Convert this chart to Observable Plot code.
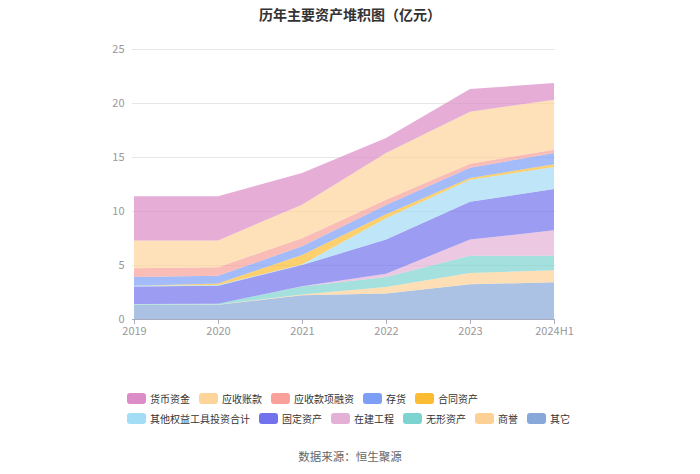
<!DOCTYPE html>
<html>
<head>
<meta charset="utf-8">
<script src="https://cdn.jsdelivr.net/npm/d3@7"></script>
<script src="https://cdn.jsdelivr.net/npm/@observablehq/plot@0.6"></script>
<style>
  html, body { margin: 0; padding: 0; background: #fff; }
  body { width: 700px; height: 474px; overflow: hidden; font-family: "Noto Sans CJK SC", "Noto Sans", sans-serif; }
  #title { height: 28px; line-height: 28px; text-align: center; font-size: 14px; font-weight: bold; color: #333; }
  #chart svg { display: block; }
  #legend { margin-top: 39px; padding-left: 127px; }
  .row { display: flex; height: 20px; align-items: center; }
  .item { display: flex; align-items: center; margin-right: 9px; font-size: 10px; color: #333; }
  .sw { width: 19px; height: 11px; border-radius: 3px; margin-right: 4px; }
  #caption { margin-top: 20px; height: 16px; line-height: 16px; text-align: center; font-size: 11.5px; color: #666; }
</style>
</head>
<body>
<div id="title">历年主要资产堆积图（亿元）</div>
<div id="chart"></div>
<div id="legend"></div>
<div id="caption">数据来源：恒生聚源</div>
<script>
const years = ["2019", "2020", "2021", "2022", "2023", "2024H1"];
const yTicks = [0, 5, 10, 15, 20, 25];

// stacking order, bottom to top
const seriesNames = ["其它", "商誉", "无形资产", "在建工程", "固定资产", "其他权益工具投资合计", "合同资产", "存货", "应收款项融资", "应收账款", "货币资金"];

const qita     = [1.30, 1.32, 2.19, 2.35, 3.21, 3.40];
const shangyu  = [0.02, 0.02, 0.09, 0.61, 1.05, 1.11];
const wuxing   = [0.08, 0.08, 0.74, 0.93, 1.60, 1.35];
const zaijian  = [0.00, 0.00, 0.02, 0.31, 1.49, 2.35];
const guding   = [1.62, 1.67, 1.96, 3.15, 3.51, 3.83];
const quanyi   = [0.05, 0.05, 0.05, 1.97, 2.04, 2.03];
const hetong   = [0.02, 0.15, 0.88, 0.37, 0.16, 0.25];
const cunhuo   = [0.80, 0.71, 0.80, 0.87, 0.95, 1.05];
const rongzi   = [0.80, 0.80, 0.74, 0.49, 0.37, 0.31];
const zhangkuan= [2.59, 2.48, 3.12, 4.32, 4.82, 4.63];
const huobi    = [4.08, 4.08, 2.93, 1.39, 2.10, 1.54];

const seriesValues = [qita, shangyu, wuxing, zaijian, guding, quanyi, hetong, cunhuo, rongzi, zhangkuan, huobi];

// legend order
const legendRow1 = ["货币资金", "应收账款", "应收款项融资", "存货", "合同资产"];
const legendRow2 = ["其他权益工具投资合计", "固定资产", "在建工程", "无形资产", "商誉", "其它"];

const palette = {
  "货币资金": "#dc8cc6",
  "应收账款": "#fdd49a",
  "应收款项融资": "#f8a099",
  "存货": "#7c9ef5",
  "合同资产": "#fbbc32",
  "其他权益工具投资合计": "#a3dcf5",
  "固定资产": "#7272ed",
  "在建工程": "#e4b0d6",
  "无形资产": "#7dd3cf",
  "商誉": "#fdd196",
  "其它": "#88a8da"
};

const rows = [];
seriesNames.forEach((s, i) => {
  years.forEach((y, j) => rows.push({ series: s, year: y, value: seriesValues[i][j] }));
});

const chart = Plot.plot({
  width: 700,
  height: 321,
  marginLeft: 132,
  marginRight: 145,
  marginTop: 21,
  marginBottom: 30,
  style: { fontFamily: "'Noto Sans CJK SC', 'Noto Sans', sans-serif", fontSize: "11px", color: "#999", background: "#fff" },
  x: { type: "point", domain: years, padding: 0, label: null },
  y: { domain: [0, 25], label: null },
  color: { domain: seriesNames, range: seriesNames.map(s => palette[s]) },
  marks: [
    Plot.gridY(yTicks, { stroke: "#e6e6e6", strokeOpacity: 1 }),
    Plot.areaY(rows, { x: "year", y: "value", fill: "series", order: seriesNames, fillOpacity: 0.7, curve: "linear" }),
    Plot.ruleY([0], { stroke: "#a8adbd", strokeWidth: 1 }),
    Plot.axisY({ ticks: yTicks, tickSize: 0, tickPadding: 8, fill: "#999", fontSize: 11 }),
    Plot.axisX({ tickSize: 5, stroke: "#a8adbd", tickPadding: 3, fill: "#999", fontSize: 11 })
  ]
});
document.getElementById("chart").appendChild(chart);

const legend = document.getElementById("legend");
[legendRow1, legendRow2].forEach(r => {
  const row = document.createElement("div");
  row.className = "row";
  r.forEach(name => {
    const it = document.createElement("div");
    it.className = "item";
    const sw = document.createElement("div");
    sw.className = "sw";
    sw.style.background = palette[name];
    const t = document.createElement("span");
    t.textContent = name;
    it.appendChild(sw);
    it.appendChild(t);
    row.appendChild(it);
  });
  legend.appendChild(row);
});
</script>
</body>
</html>
